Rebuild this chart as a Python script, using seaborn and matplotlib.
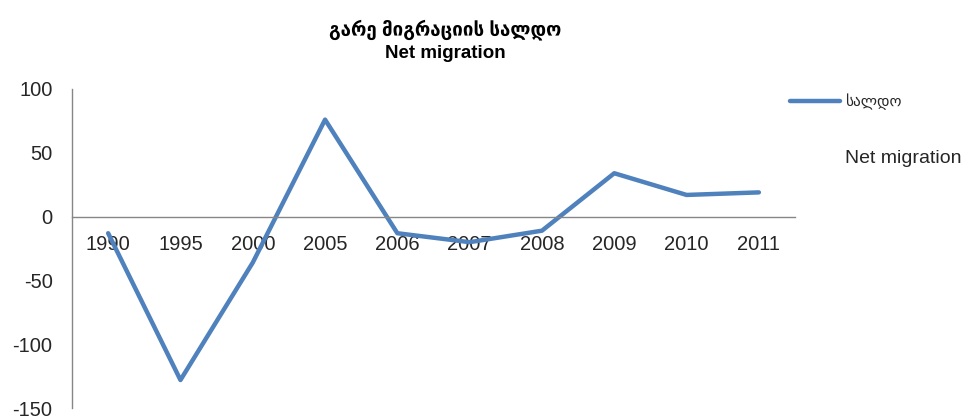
import matplotlib
matplotlib.use("Agg")
import matplotlib.pyplot as plt
import seaborn as sns
import pandas as pd

# Net migration (thousands)
years = ["1990", "1995", "2000", "2005", "2006", "2007", "2008", "2009", "2010", "2011"]
saldo = [-13, -128, -36, 76, -13, -20, -11, 34, 17, 19]
yticks = [-150, -100, -50, 0, 50, 100]

sns.set_style("white")
plt.rcParams["font.family"] = ["Liberation Sans", "DejaVu Sans"]
plt.rcParams["axes.unicode_minus"] = False

df = pd.DataFrame({"year": years, "saldo": saldo})

fig = plt.figure(figsize=(9.64, 4.19), dpi=100)
ax = fig.add_axes([0.0747, 0.026, 0.75, 0.7616])

sns.lineplot(data=df, x="year", y="saldo", ax=ax, color="#4F81BD",
             linewidth=3.2, sort=False, label="სალდო")

ax.set_xlim(-0.5, len(years) - 0.5)
ax.set_ylim(-150, 100)
ax.set_yticks(yticks)
ax.set_xlabel("")
ax.set_ylabel("")

# Axis styling: y axis on the left, category axis through zero
for s in ["top", "right"]:
    ax.spines[s].set_visible(False)
ax.spines["bottom"].set_position(("data", 0))
for s in ["left", "bottom"]:
    ax.spines[s].set_color("#868686")
    ax.spines[s].set_linewidth(1.0)
ax.tick_params(axis="y", length=0, pad=14, labelsize=14.5, labelcolor="#262626")
ax.tick_params(axis="x", length=0, pad=13, labelsize=14.5, labelcolor="#262626")

# Title
fig.text(445 / 964, 1 - 30 / 419, "გარე მიგრაციის სალდო", ha="center", va="center",
         fontsize=13.5, fontweight="bold", color="black")
fig.text(445 / 964, 1 - 53 / 419, "Net migration", ha="center", va="center",
         fontsize=13.5, fontweight="bold", color="black")

# Legend to the right
ax.legend(loc="center left", bbox_to_anchor=(790 / 964, 1 - 102 / 419),
          bbox_transform=fig.transFigure, frameon=False, fontsize=11,
          handlelength=3.3, handletextpad=0.3, borderpad=0, borderaxespad=0)
fig.text(845 / 964, 1 - 158 / 419, "Net migration", ha="left", va="center",
         fontsize=14, color="#262626")

fig.savefig("out.png", dpi=100)
